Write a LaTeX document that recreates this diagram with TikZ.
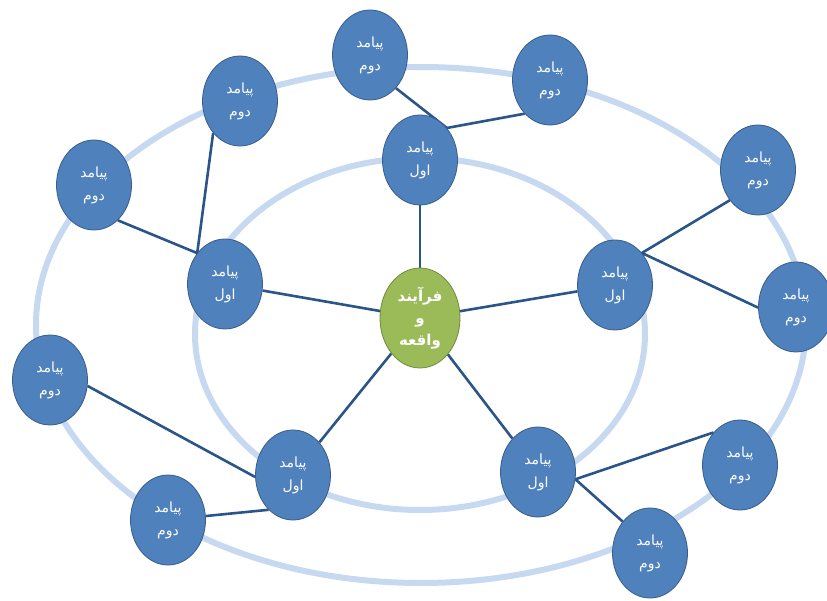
\documentclass[tikz,border=0pt]{standalone}
\usepackage{fontspec}
\newfontfamily\arabicfont[Script=Arabic]{DejaVu Sans}
\TeXXeTstate=1
\usetikzlibrary{shapes.geometric,backgrounds}
\definecolor{ringc}{HTML}{C6D9F1}
\definecolor{linec}{HTML}{2B5589}
\definecolor{nodefill}{HTML}{4F81BD}
\definecolor{nodeedge}{HTML}{385D8A}
\definecolor{centfill}{HTML}{9BBB59}
\definecolor{centedge}{HTML}{71893F}
\tikzset{
  ring/.style={draw=ringc, line width=6pt},
  link/.style={draw=linec, line width=2.6pt},
  bubble/.style={ellipse, draw=nodeedge, line width=0.8pt, fill=nodefill, text=white,
     minimum width=75pt, minimum height=90pt, inner sep=0pt, align=center,
     font=\arabicfont\fontsize{14}{23}\selectfont},
  hub/.style={ellipse, draw=centedge, line width=0.8pt, fill=centfill, text=white,
     minimum width=80pt, minimum height=100pt, inner sep=0pt, align=center,
     font=\arabicfont\bfseries\fontsize{15}{22}\selectfont},
}
\newcommand{\Rt}[1]{\beginR #1\endR}
\begin{document}
\begin{tikzpicture}[x=1pt,y=-1pt]
\useasboundingbox (0,0) rectangle (827,601);
% nodes
\node[hub] (c) at (420,318) {\Rt{فرآیند}\\\Rt{و}\\\Rt{واقعه}};
\node[bubble] (t1) at (420,160) {\Rt{پیامد}\\\Rt{اول}};
\node[bubble] (l1) at (225,284) {\Rt{پیامد}\\\Rt{اول}};
\node[bubble] (r1) at (615,285) {\Rt{پیامد}\\\Rt{اول}};
\node[bubble] (bl1) at (293,475) {\Rt{پیامد}\\\Rt{اول}};
\node[bubble] (br1) at (538,472) {\Rt{پیامد}\\\Rt{اول}};
\node[bubble] (a2) at (370,55) {\Rt{پیامد}\\\Rt{دوم}};
\node[bubble] (b2) at (550,80) {\Rt{پیامد}\\\Rt{دوم}};
\node[bubble] (c2) at (240,101) {\Rt{پیامد}\\\Rt{دوم}};
\node[bubble] (d2) at (94,185) {\Rt{پیامد}\\\Rt{دوم}};
\node[bubble] (e2) at (758,170) {\Rt{پیامد}\\\Rt{دوم}};
\node[bubble] (f2) at (796,307) {\Rt{پیامد}\\\Rt{دوم}};
\node[bubble] (g2) at (50,380) {\Rt{پیامد}\\\Rt{دوم}};
\node[bubble] (h2) at (168,520) {\Rt{پیامد}\\\Rt{دوم}};
\node[bubble] (i2) at (740,465) {\Rt{پیامد}\\\Rt{دوم}};
\node[bubble] (j2) at (650,553) {\Rt{پیامد}\\\Rt{دوم}};
\begin{pgfonlayer}{background}
\draw[ring] (421,325) ellipse [x radius=385, y radius=258];
\draw[ring] (420,334) ellipse [x radius=225, y radius=176];
\draw[link] (c) -- (t1);
\draw[link] (c) -- (l1);
\draw[link] (c) -- (r1);
\draw[link] (c) -- (bl1);
\draw[link] (c) -- (br1);
\draw[link] (a2.-52) -- (t1.50) -- (b2.233);
\draw[link] (d2.-56) -- (l1.132) -- (c2.230);
\draw[link] (e2.227) -- (r1.50) -- (f2.181);
\draw[link] (g2.-9) -- (bl1.183);
\draw[link] (h2.6) -- (bl1.235);
\draw[link] (i2.129) -- (br1.-11) -- (j2.131);
\end{pgfonlayer}
\end{tikzpicture}
\end{document}
